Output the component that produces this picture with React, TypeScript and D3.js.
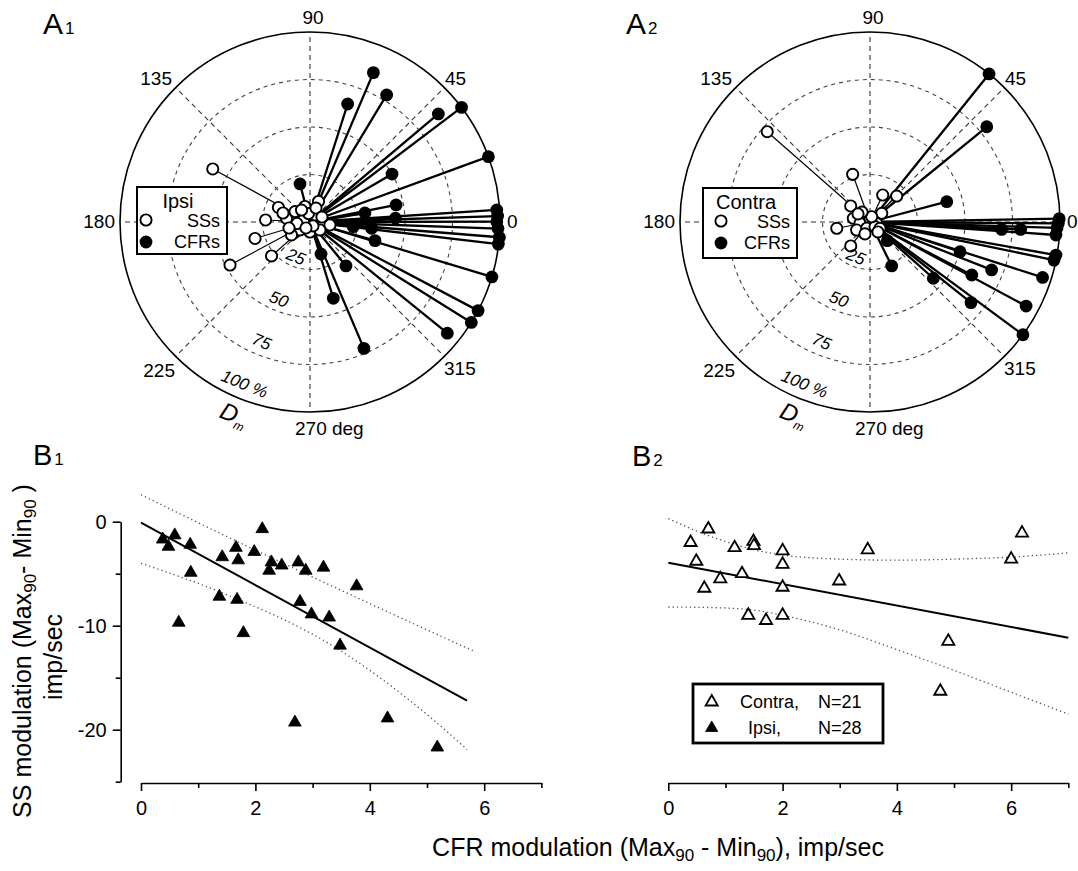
import React, { useEffect, useRef } from "react";
import * as d3 from "d3";

const FONT = "'Liberation Sans', Arial, Helvetica, sans-serif";

// ---------- A panels: preferred direction (deg) and depth of modulation Dm (%) ----------
const ipsiCfrVectors: [number, number][] = [
  [67.0, 85.4], [58.9, 78.1], [72.3, 65.2], [40.1, 88.3], [37.1, 100], [20.1, 100],
  [30.3, 50], [104.7, 20.7], [11.2, 46.2], [2.5, 45], [9.3, 29.3], [3.7, 98.5],
  [0.1, 98.3], [355.4, 100], [353.3, 99.8], [353.8, 22.9], [354.2, 32.6], [344, 35.6],
  [343.2, 100], [332.2, 100], [328.1, 100], [321, 93], [293.1, 72.3], [287, 42],
  [309.3, 29.9], [289, 17.8], [1.8, 98.8], [358, 99],
];

const ipsiSsVectors: [number, number][] = [
  [151.4, 58.3], [208.3, 47.8], [177.4, 23.4], [196.7, 30.2], [221.4, 27], [155.3, 18.3],
  [171.5, 12.5], [145, 9.6], [108, 8.6], [67.5, 11.7], [54.5, 4.5], [353.4, 6.9],
  [351.5, 10.6], [213.7, 9.5], [218.7, 6.7], [270, 5.3], [321.3, 6.7], [163, 3.6],
  [100, 4.5], [186.6, 6.9], [215, 11.9], [125.3, 7.7], [307, 2.6], [196, 11.5],
  [66.8, 8], [236, 3.8], [22.6, 6.8], [161.6, 15],
];

const contraCfrVectors: [number, number][] = [
  [51.2, 100], [39.2, 79.3], [14.8, 41.8], [359.6, 99.1], [356, 98.1], [358.2, 98.5],
  [356.8, 69.4], [357.2, 79.4], [349.9, 99.4], [348.3, 98.9], [341.7, 49.9], [338.5, 68.8],
  [332.5, 60.4], [342.2, 95.4], [318.4, 44.6], [331.7, 93.3], [321.4, 68], [323.6, 100],
  [296.3, 25.8], [312.8, 13.4], [1.0, 99.6],
];

const contraSsVectors: [number, number][] = [
  [138.7, 72], [110, 26.7], [64.8, 15.7], [44.2, 19.6], [140.3, 13.2], [190.7, 17.8],
  [231.2, 16.2], [167.5, 9], [187.4, 5.3], [211, 8.2], [90, 1.9], [349, 3.6],
  [36.6, 7.7], [242, 3.7], [317, 3.6], [327.8, 6.2], [72, 2.9], [128.7, 6.7],
  [247, 6.8], [308.7, 6.7], [146, 7.6],
];

const ringTicks = [25, 50, 75, 100];
const spokeAngles = [0, 45, 90, 135, 180, 225, 270, 315];
const angleTickLabels = ["0", "45", "90", "135", "180", "225", "270 deg", "315"];

// ---------- B panels: CFR modulation vs SS modulation (imp/sec) ----------
const ipsiModulation: [number, number][] = [
  [0.38, -1.7], [0.59, -1.3], [0.48, -2.4], [0.86, -2.2], [0.87, -4.9], [0.66, -9.7],
  [1.42, -3.4], [1.37, -7.2], [1.66, -2.5], [1.70, -3.7], [1.68, -7.5], [1.79, -10.7],
  [1.98, -2.9], [2.12, -0.7], [2.24, -4.7], [2.28, -3.9], [2.46, -4.2], [2.75, -3.9],
  [2.88, -4.7], [2.78, -7.7], [2.98, -8.9], [3.19, -4.4], [3.29, -9.2], [3.77, -6.2],
  [3.48, -11.9], [2.69, -19.3], [4.31, -18.9], [5.18, -21.7],
];
const ipsiFit: [number, number][] = [[0, -0.1], [5.7, -17.2]];
const ipsiUpper: [number, number][] = [[0, 2.6], [1, -0.1], [3.5, -6.6], [5.8, -12.4]];
const ipsiLower: [number, number][] = [[0, -4.0], [1.4, -6.8], [3.4, -12.1], [5.1, -19.0], [5.7, -21.9]];

const contraModulation: [number, number][] = [
  [0.39, -2.0], [0.70, -0.7], [0.49, -3.8], [0.63, -6.4], [0.91, -5.5], [1.16, -2.5],
  [1.29, -5.0], [1.49, -1.9], [1.5, -2.3], [1.4, -9.0], [1.71, -9.5], [2.0, -2.8],
  [2.0, -4.1], [2.0, -6.3], [2.0, -9.0], [2.99, -5.7], [3.49, -2.7], [4.9, -11.5],
  [4.76, -16.3], [6.0, -3.6], [6.19, -1.1],
];
const contraFit: [number, number][] = [[0, -3.95], [7, -11.15]];
const contraUpper: [number, number][] = [
  [0, 0.3], [0.5, -0.9], [1, -1.9], [1.5, -2.7], [2, -3.2], [3, -3.6], [4, -3.7], [5, -3.6], [6, -3.4], [7, -3.0],
];
const contraLower: [number, number][] = [
  [0, -8.2], [1, -8.3], [1.5, -8.5], [2, -9.0], [3, -10.4], [4, -12.3], [5, -14.3], [6, -16.4], [7, -18.5],
];

const R = 190;

function PolarPanel({ cx, cy, cfr, ss, title, box, markerDx }: any) {
  const r = d3.scaleLinear().domain([0, 100]).range([0, R]);
  const pos = (deg: number, pct: number) => {
    const a = (deg * Math.PI) / 180;
    return [cx + r(pct) * Math.cos(a), cy - r(pct) * Math.sin(a)];
  };
  const labelPos: Record<string, [number, number, string]> = {
    "0": [197, 6, "start"],
    "45": [135, -137, "start"],
    "90": [3, -198.5, "middle"],
    "135": [-138, -137, "end"],
    "180": [-195, 6, "end"],
    "225": [-135, 155, "end"],
    "270 deg": [-15, 213, "start"],
    "315": [134, 153, "start"],
  };
  const ringAngle = (248 * Math.PI) / 180;
  const bx = cx + box.x, by = cy + box.y;

  return (
    <g>
      {spokeAngles.map((a) => {
        const [x, y] = pos(a, 100);
        return <line key={a} x1={cx} y1={cy} x2={x} y2={y} stroke="#333" strokeWidth={1.1} strokeDasharray="5,4" />;
      })}
      {ringTicks.map((t) => (
        <circle key={t} cx={cx} cy={cy} r={r(t)} fill="none" stroke={t === 100 ? "#000" : "#444"}
          strokeWidth={t === 100 ? 1.6 : 1.1} strokeDasharray={t === 100 ? undefined : "4,4"} />
      ))}
      {cfr.map((d: [number, number], i: number) => {
        const [x, y] = pos(d[0], d[1]);
        return <line key={"cl" + i} x1={cx} y1={cy} x2={x} y2={y} stroke="#000" strokeWidth={2.3} />;
      })}
      {ss.map((d: [number, number], i: number) => {
        const [x, y] = pos(d[0], d[1]);
        return <line key={"sl" + i} x1={cx} y1={cy} x2={x} y2={y} stroke="#000" strokeWidth={1.2} />;
      })}
      {cfr.map((d: [number, number], i: number) => {
        const [x, y] = pos(d[0], d[1]);
        return <circle key={"cd" + i} cx={x} cy={y} r={6.4} fill="#000" />;
      })}
      {ss.map((d: [number, number], i: number) => {
        const [x, y] = pos(d[0], d[1]);
        return <circle key={"sd" + i} cx={x} cy={y} r={5.6} fill="#fff" stroke="#000" strokeWidth={1.9} />;
      })}

      {angleTickLabels.map((t) => {
        const [dx, dy, anchor] = labelPos[t];
        return (
          <text key={t} x={cx + dx} y={cy + dy} textAnchor={anchor} fontSize={19}>{t}</text>
        );
      })}
      {ringTicks.map((t) => {
        const rr = r(t) - (7 + t * 0.07);
        const x = cx + rr * Math.cos(ringAngle);
        const y = cy - rr * Math.sin(ringAngle);
        return (
          <text key={"rl" + t} x={x} y={y} fontSize={17} fontStyle="italic" textAnchor="middle"
            dominantBaseline="middle" transform={`rotate(22 ${x} ${y})`}>
            {t === 100 ? "100 %" : t}
          </text>
        );
      })}
      <text x={cx - 79} y={cy + 200} fontSize={24} fontStyle="italic" textAnchor="middle"
        transform={`rotate(22 ${cx - 79} ${cy + 200})`}>
        D<tspan fontSize={12} dy={5}>m</tspan>
      </text>

      <rect x={bx} y={by} width={box.w} height={box.h} fill="#fff" stroke="#000" strokeWidth={2} />
      <text x={bx + box.w / 2 - 4} y={by + 21} textAnchor="middle" fontSize={20}>{title}</text>
      <circle cx={bx + markerDx} cy={by + 33} r={5.6} fill="#fff" stroke="#000" strokeWidth={1.9} />
      <text x={bx + box.w - 7} y={by + 40} textAnchor="end" fontSize={18}>SSs</text>
      <circle cx={bx + markerDx} cy={by + 55} r={6.4} fill="#000" />
      <text x={bx + box.w - 7} y={by + 61} textAnchor="end" fontSize={18}>CFRs</text>
    </g>
  );
}

const yB = d3.scaleLinear().domain([-25, 0]).range([781.7, 521.7]);
const xB1 = d3.scaleLinear().domain([0, 7]).range([141, 541.4]);
const xB2 = d3.scaleLinear().domain([0, 7]).range([668.3, 1068.3]);
const X_AXIS_Y = 783;

function ScatterPanel({ x, points, fit, upper, lower, filled, yAxis }: any) {
  const xRef = useRef<SVGGElement>(null);
  const yRef = useRef<SVGGElement>(null);

  useEffect(() => {
    const gx = d3.select(xRef.current);
    gx.call(
      d3.axisBottom(x).tickValues(d3.range(0, 8)).tickSize(8).tickSizeOuter(0).tickPadding(10)
        .tickFormat((d: any) => (d % 2 === 0 ? String(d) : "")) as any
    );
    gx.selectAll(".tick").filter((d: any) => d % 2 !== 0).select("line").attr("y2", 5);
    gx.attr("font-size", 20).attr("font-family", FONT);
    gx.selectAll("line,path").attr("stroke", "#000").attr("stroke-width", 1.6);

    if (yAxis && yRef.current) {
      const gy = d3.select(yRef.current);
      gy.call(
        d3.axisLeft(yB).tickValues([-25, -20, -15, -10, -5, 0]).tickSize(8).tickSizeOuter(0).tickPadding(6)
          .tickFormat((d: any) => (d % 10 === 0 ? String(d) : "")) as any
      );
      gy.selectAll(".tick").filter((d: any) => d % 10 !== 0).select("line").attr("x2", -5);
      gy.attr("font-size", 20).attr("font-family", FONT);
      gy.selectAll("line,path").attr("stroke", "#000").attr("stroke-width", 1.6);
    }
  }, []);

  const line = d3.line<[number, number]>().x((d) => x(d[0])).y((d) => yB(d[1]));
  const band = d3.line<[number, number]>().x((d) => x(d[0])).y((d) => yB(d[1])).curve(d3.curveMonotoneX);
  const tri = d3.symbol().type(d3.symbolTriangle).size(filled ? 70 : 64)();

  return (
    <g>
      <g ref={xRef} transform={`translate(0,${X_AXIS_Y})`} />
      {yAxis && <g ref={yRef} transform="translate(120.7,0)" />}
      <path d={band(upper) || ""} fill="none" stroke="#555" strokeWidth={1.3} strokeDasharray="1.3,3" />
      <path d={band(lower) || ""} fill="none" stroke="#555" strokeWidth={1.3} strokeDasharray="1.3,3" />
      <path d={line(fit) || ""} fill="none" stroke="#000" strokeWidth={2} />
      {points.map((d: [number, number], i: number) => (
        <path key={i} d={tri || ""} transform={`translate(${x(d[0])},${yB(d[1])})`}
          fill={filled ? "#000" : "#fff"} stroke="#000" strokeWidth={filled ? 0.8 : 1.8} />
      ))}
    </g>
  );
}

export default function App() {
  const tri = d3.symbol().type(d3.symbolTriangle).size(64)();
  return (
    <svg width={1078} height={871} viewBox="0 0 1078 871"
      style={{ position: "absolute", left: 0, top: 0, background: "#fff" }}
      fontFamily={FONT}>
      <rect width={1078} height={871} fill="#fff" />

      <text x={43} y={34} fontSize={30}>A<tspan fontSize={17} dx={2}>1</tspan></text>
      <text x={626} y={34} fontSize={30}>A<tspan fontSize={17} dx={2}>2</tspan></text>
      <text x={33} y={465} fontSize={29}>B<tspan fontSize={17} dx={2}>1</tspan></text>
      <text x={632} y={466} fontSize={29}>B<tspan fontSize={17} dx={2}>2</tspan></text>

      <PolarPanel cx={310} cy={222} cfr={ipsiCfrVectors} ss={ipsiSsVectors} title="Ipsi"
        box={{ x: -173, y: -35, w: 90, h: 67 }} markerDx={9} />
      <PolarPanel cx={870} cy={222} cfr={contraCfrVectors} ss={contraSsVectors} title="Contra"
        box={{ x: -167, y: -34, w: 94, h: 70 }} markerDx={18} />

      <ScatterPanel x={xB1} points={ipsiModulation} fit={ipsiFit} upper={ipsiUpper} lower={ipsiLower}
        filled yAxis />
      <ScatterPanel x={xB2} points={contraModulation} fit={contraFit} upper={contraUpper} lower={contraLower}
        filled={false} yAxis={false} />

      {/* legend of B2 */}
      <rect x={693} y={684} width={190} height={59} fill="#fff" stroke="#000" strokeWidth={2.8} />
      <path d={tri || ""} transform="translate(711.7,702)" fill="#fff" stroke="#000" strokeWidth={1.8} />
      <text x={740} y={708} fontSize={18}>Contra,</text>
      <text x={818} y={708} fontSize={18}>N=21</text>
      <path d={tri || ""} transform="translate(711.7,728)" fill="#000" stroke="#000" strokeWidth={0.8} />
      <text x={748} y={734} fontSize={18}>Ipsi,</text>
      <text x={818} y={734} fontSize={18}>N=28</text>

      {/* axis titles */}
      <text transform="translate(31,651) rotate(-90)" textAnchor="middle" fontSize={25}>
        SS modulation (Max<tspan fontSize={17} dy={5}>90</tspan><tspan dy={-5}>- Min</tspan>
        <tspan fontSize={17} dy={5}>90</tspan><tspan dy={-5}> )</tspan>
      </text>
      <text transform="translate(62,657) rotate(-90)" textAnchor="middle" fontSize={25}>imp/sec</text>
      <text x={658} y={856} textAnchor="middle" fontSize={25}>
        CFR modulation (Max<tspan fontSize={17} dy={5}>90</tspan><tspan dy={-5}> - Min</tspan>
        <tspan fontSize={17} dy={5}>90</tspan><tspan dy={-5}>), imp/sec</tspan>
      </text>
    </svg>
  );
}
